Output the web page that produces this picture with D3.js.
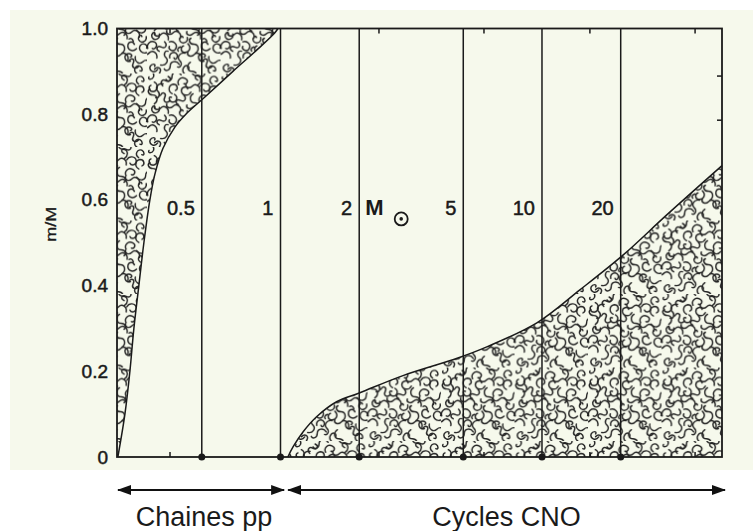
<!DOCTYPE html>
<html>
<head>
<meta charset="utf-8">
<script src="https://cdn.jsdelivr.net/npm/d3@7"></script>
<style>
  body { margin: 0; background: #ffffff; }
  svg { display: block; }
  text { font-family: "Liberation Sans", Arial, Helvetica, sans-serif; fill: #1a1a1a; }
</style>
</head>
<body>
<div id="chart"></div>
<script>
// Stellar masses (in solar masses) of the vertical reference lines
const lineMasses = [0.5, 1, 2, 5, 10, 20];
const lineLabels = ['0.5', '1', '2', '5', '10', '20'];

// m/M axis ticks
const yTicks = [0, 0.2, 0.4, 0.6, 0.8, 1.0];

// Outer convective envelope : lower boundary m/M vs stellar mass
const envelopeDepth = [0, 0.1, 0.2, 0.3, 0.4, 0.5, 0.6, 0.66, 0.72, 0.77, 0.80, 0.84, 0.90, 0.95, 0.99, 1.0];
const envelopeMass  = [0.2388, 0.2541, 0.2655, 0.2750, 0.2873, 0.3003, 0.3166, 0.3309, 0.3550, 0.3946, 0.4346, 0.514, 0.6577, 0.8125, 0.9519, 0.9774];

// Convective core : upper boundary m/M vs stellar mass
const coreMass  = [1.067, 1.118, 1.221, 1.374, 1.639, 2.012, 2.94, 4.77, 6.15, 9.56, 13.96, 20.4, 30.0, 48.8];
const coreDepth = [0, 0.024, 0.059, 0.094, 0.129, 0.150, 0.19, 0.231, 0.257, 0.313, 0.39, 0.471, 0.565, 0.68];

// small frame ticks
const frameTickMass = [0.378, 2.38, 6.0, 15.25, 38.5];
const rightTickDepth = [0.786, 0.889];

// mass range of the x axis and pp / CNO split
const massRange = [0.237, 48.8];
const ppCnoSplit = 1.06;
const labelDepth = 0.565;

const W = 753, H = 531;
const margin = { top: 28.5, right: 31, bottom: 74, left: 117 };

const svg = d3.select('#chart').append('svg')
  .attr('width', W)
  .attr('height', H);

// scanned page tint
svg.append('rect')
  .attr('x', 10).attr('y', 10)
  .attr('width', W - 10).attr('height', 460)
  .attr('fill', '#f6f9ec');

const x = d3.scaleLog()
  .domain(massRange)
  .range([margin.left, W - margin.right]);

const y = d3.scaleLinear()
  .domain([0, 1])
  .range([H - margin.bottom, margin.top]);

// Convection "cloud" texture : a tile of small curls
const defs = svg.append('defs');
const cell = 7, nCell = 7;
const pat = defs.append('pattern')
  .attr('id', 'cloud')
  .attr('patternUnits', 'userSpaceOnUse')
  .attr('width', cell * nCell).attr('height', cell * nCell)
  .attr('patternTransform', 'scale(1.5)');
const shapes = [
  'M-3,-2 c2,-3 6,-1 5,2 c-1,2 -4,2 -3,0',
  'M-3,-3 c3,0 4,3 1,4 c-3,1 -2,4 1,3',
  'M-3,2 c-1,-3 2,-6 5,-4 c2,2 0,5 -2,4',
  'M-4,0 c1,-3 5,-3 6,0 c1,3 -2,4 -3,2',
  'M-2,-4 c-3,2 -2,6 1,6 c3,0 4,3 2,4',
  'M-4,1 c0,-4 4,-5 6,-2 c1,2 -1,4 -3,3 M1,3 c2,1 3,0 3,-1'
];
const curls = d3.cross(d3.range(nCell), d3.range(nCell)).map(([i, j]) => ({
  shape: shapes[(i * i + j * 2 + i * j) % shapes.length],
  tx: i * cell + cell / 2 + ((i * 7 + j * 3) % 5 - 2) * 0.6,
  ty: j * cell + cell / 2 + ((i * 3 + j * 5) % 5 - 2) * 0.6,
  rot: ((i * 5 + j * j * 3 + i * j) % 8) * 45
}));
pat.selectAll('path')
  .data(curls)
  .join('path')
  .attr('d', d => d.shape)
  .attr('transform', d => `translate(${d.tx},${d.ty}) rotate(${d.rot})`)
  .attr('fill', 'none')
  .attr('stroke', '#222')
  .attr('stroke-width', 0.95)
  .attr('stroke-linecap', 'round');

const envelope = envelopeDepth.map((q, i) => ({ q, m: envelopeMass[i] }));
const core = coreMass.map((m, i) => ({ m, q: coreDepth[i] }));
const smooth = d3.curveCatmullRom.alpha(0.5);

// Envelope region (left edge up to the boundary curve)
const envArea = d3.area()
  .y(d => y(d.q))
  .x0(x(massRange[0]))
  .x1(d => x(d.m))
  .curve(smooth);

svg.append('path')
  .datum(envelope)
  .attr('d', envArea)
  .attr('fill', 'url(#cloud)');

svg.append('path')
  .datum(envelope)
  .attr('d', d3.line().x(d => x(d.m)).y(d => y(d.q)).curve(smooth))
  .attr('fill', 'none')
  .attr('stroke', '#1a1a1a')
  .attr('stroke-width', 1.5);

// Core region (bottom up to the boundary curve)
const coreArea = d3.area()
  .x(d => x(d.m))
  .y0(y(0))
  .y1(d => y(d.q))
  .curve(smooth);

svg.append('path')
  .datum(core)
  .attr('d', coreArea)
  .attr('fill', 'url(#cloud)');

svg.append('path')
  .datum(core)
  .attr('d', d3.line().x(d => x(d.m)).y(d => y(d.q)).curve(smooth))
  .attr('fill', 'none')
  .attr('stroke', '#1a1a1a')
  .attr('stroke-width', 1.5);

// Vertical mass lines
svg.selectAll('line.mass')
  .data(lineMasses)
  .join('line')
  .attr('class', 'mass')
  .attr('x1', d => x(d)).attr('x2', d => x(d))
  .attr('y1', y(0)).attr('y2', y(1))
  .attr('stroke', '#1a1a1a')
  .attr('stroke-width', 1.5);

svg.selectAll('circle.dot')
  .data(lineMasses)
  .join('circle')
  .attr('class', 'dot')
  .attr('cx', d => x(d))
  .attr('cy', y(0))
  .attr('r', 3.5)
  .attr('fill', '#1a1a1a');

// Frame
svg.append('rect')
  .attr('x', x(massRange[0]))
  .attr('y', y(1))
  .attr('width', x(massRange[1]) - x(massRange[0]))
  .attr('height', y(0) - y(1))
  .attr('fill', 'none')
  .attr('stroke', '#1a1a1a')
  .attr('stroke-width', 1.8);

// Inward ticks
svg.selectAll('line.ttick')
  .data(frameTickMass)
  .join('line')
  .attr('class', 'ttick')
  .attr('x1', d => x(d)).attr('x2', d => x(d))
  .attr('y1', y(1)).attr('y2', y(1) + 5)
  .attr('stroke', '#1a1a1a').attr('stroke-width', 1.5);

svg.selectAll('line.btick')
  .data(frameTickMass)
  .join('line')
  .attr('class', 'btick')
  .attr('x1', d => x(d)).attr('x2', d => x(d))
  .attr('y1', y(0)).attr('y2', y(0) - 5)
  .attr('stroke', '#1a1a1a').attr('stroke-width', 1.5);

svg.selectAll('line.rtick')
  .data(rightTickDepth)
  .join('line')
  .attr('class', 'rtick')
  .attr('x1', x(massRange[1])).attr('x2', x(massRange[1]) - 5)
  .attr('y1', d => y(d)).attr('y2', d => y(d))
  .attr('stroke', '#1a1a1a').attr('stroke-width', 1.5);

// Y axis labels
const yAxis = svg.append('g')
  .attr('transform', `translate(${x(massRange[0]) - 9},0)`)
  .call(d3.axisLeft(y).tickValues(yTicks).tickSize(0).tickPadding(0)
    .tickFormat(d => d === 0 ? '0' : d3.format('.1f')(d)));
yAxis.select('.domain').remove();
yAxis.selectAll('text')
  .attr('font-size', 19)
  .attr('fill', '#1a1a1a')
  .attr('stroke', '#1a1a1a')
  .attr('stroke-width', 0.5)
  .style('font-family', '"Liberation Sans", Arial, sans-serif');

svg.append('text')
  .attr('transform', `translate(56,${(y(0.58) + y(0.52)) / 2 + 3}) rotate(-90)`)
  .attr('text-anchor', 'middle')
  .attr('font-size', 14)
  .attr('textLength', 35)
  .attr('lengthAdjust', 'spacingAndGlyphs')
  .attr('stroke', '#1a1a1a')
  .attr('stroke-width', 0.3)
  .text('m/M');

// Mass labels
svg.selectAll('text.mlab')
  .data(lineMasses)
  .join('text')
  .attr('class', 'mlab')
  .attr('x', d => x(d) - 7)
  .attr('y', y(labelDepth))
  .attr('text-anchor', 'end')
  .attr('font-size', 20)
  .attr('stroke', '#1a1a1a')
  .attr('stroke-width', 0.5)
  .text((d, i) => lineLabels[i]);

// M sun symbol next to the 2 line
const sunX = x(2) + 6;
svg.append('text')
  .attr('x', sunX)
  .attr('y', y(labelDepth))
  .attr('font-size', 22)
  .attr('font-weight', 'bold')
  .text('M');
svg.append('circle')
  .attr('cx', sunX + 36).attr('cy', y(labelDepth) + 4)
  .attr('r', 6.5)
  .attr('fill', 'none')
  .attr('stroke', '#1a1a1a')
  .attr('stroke-width', 1.8);
svg.append('circle')
  .attr('cx', sunX + 36).attr('cy', y(labelDepth) + 4)
  .attr('r', 1.8)
  .attr('fill', '#1a1a1a');

// Bottom arrows : pp chains vs CNO cycles
defs.append('marker')
  .attr('id', 'head')
  .attr('markerUnits', 'userSpaceOnUse')
  .attr('markerWidth', 14).attr('markerHeight', 10)
  .attr('refX', 13).attr('refY', 5)
  .attr('orient', 'auto-start-reverse')
  .append('path')
  .attr('d', 'M0,0 L14,5 L0,10 Z')
  .attr('fill', '#111');

const arrowY = 490;
const arrows = [
  { x1: x(massRange[0]) + 1, x2: x(ppCnoSplit) - 3, label: 'Chaines pp' },
  { x1: x(ppCnoSplit) + 1, x2: x(massRange[1]) + 3, label: 'Cycles CNO' }
];

svg.selectAll('line.arrow')
  .data(arrows)
  .join('line')
  .attr('class', 'arrow')
  .attr('x1', d => d.x1).attr('x2', d => d.x2)
  .attr('y1', arrowY).attr('y2', arrowY)
  .attr('stroke', '#111')
  .attr('stroke-width', 2)
  .attr('marker-start', 'url(#head)')
  .attr('marker-end', 'url(#head)');

svg.selectAll('text.region')
  .data(arrows)
  .join('text')
  .attr('class', 'region')
  .attr('x', (d, i) => i === 0 ? (d.x1 + d.x2) / 2 + 3 : (d.x1 + d.x2) / 2)
  .attr('y', 526)
  .attr('text-anchor', 'middle')
  .attr('font-size', 27)
  .text(d => d.label);
</script>
</body>
</html>
